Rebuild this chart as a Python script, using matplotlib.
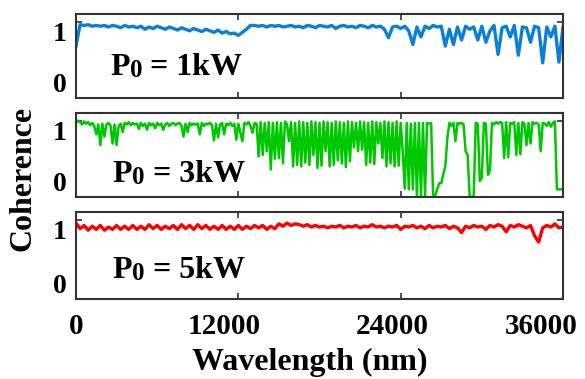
import numpy as np
import matplotlib
matplotlib.use("Agg")
import matplotlib.pyplot as plt
from matplotlib.transforms import ScaledTranslation

plt.rcParams['font.family'] = ['Liberation Serif', 'DejaVu Serif']
plt.rcParams['font.weight'] = 'bold'

# wavelength grids (nm)
wavelength = list(range(0, 36001, 300))
wavelength_fine = list(range(0, 36001, 150))

coh_1kw = [0.68, 0.96, 0.95, 0.96, 0.94, 0.95, 0.94, 0.95, 0.93, 0.95,
           0.94, 0.92, 0.95, 0.93, 0.94, 0.92, 0.94, 0.90, 0.93, 0.91,
           0.94, 0.92, 0.90, 0.93, 0.91, 0.89, 0.92, 0.90, 0.88, 0.91,
           0.89, 0.87, 0.90, 0.88, 0.86, 0.89, 0.85, 0.87, 0.84, 0.85,
           0.82, 0.86, 0.90, 0.95, 0.95, 0.94, 0.95, 0.93, 0.95, 0.94,
           0.95, 0.93, 0.94, 0.95, 0.93, 0.94, 0.92, 0.95, 0.94, 0.92,
           0.95, 0.94, 0.93, 0.95, 0.91, 0.94, 0.95, 0.93, 0.94, 0.92,
           0.95, 0.94, 0.92, 0.95, 0.93, 0.94, 0.90, 0.79, 0.93, 0.94,
           0.91, 0.94, 0.88, 0.70, 0.93, 0.80, 0.94, 0.91, 0.95, 0.93,
           0.94, 0.68, 0.90, 0.70, 0.93, 0.76, 0.94, 0.90, 0.93, 0.76,
           0.94, 0.73, 0.88, 0.95, 0.57, 0.92, 0.94, 0.80, 0.95, 0.56,
           0.93, 0.92, 0.73, 0.94, 0.92, 0.46, 0.93, 0.80, 0.94, 0.47,
           0.93]

coh_3kw = [0.97, 1.00, 0.98, 0.95, 0.99, 0.96, 0.98, 0.94, 0.97, 0.93,
           0.82, 0.95, 0.68, 0.96, 0.79, 0.95, 0.97, 0.94, 0.70, 0.95,
           0.68, 0.93, 0.96, 0.85, 0.97, 0.95, 0.98, 0.94, 0.97, 0.95,
           0.96, 0.89, 0.97, 0.93, 0.96, 0.88, 0.97, 0.94, 0.96, 0.90,
           0.97, 0.94, 0.96, 0.88, 0.95, 0.97, 0.93, 0.96, 0.97, 0.94,
           0.96, 0.97, 0.93, 0.79, 0.96, 0.85, 0.97, 0.94, 0.96, 0.95,
           0.96, 0.82, 0.97, 0.93, 0.96, 0.95, 0.97, 0.94, 0.74, 0.96,
           0.78, 0.95, 0.97, 0.82, 0.96, 0.94, 0.97, 0.93, 0.96, 0.75,
           0.96, 0.84, 0.73, 0.97, 0.95, 0.98, 0.93, 0.84, 0.97, 0.96,
           0.53, 0.98, 0.55, 0.97, 0.60, 0.98, 0.36, 0.97, 0.50, 0.98,
           0.51, 0.97, 0.44, 0.99, 0.95, 0.73, 0.98, 0.40, 0.97, 0.42,
           0.99, 0.40, 0.98, 0.45, 0.97, 0.42, 0.99, 0.55, 0.98, 0.38,
           0.97, 0.41, 0.99, 0.60, 0.98, 0.40, 0.97, 0.42, 0.99, 0.48,
           0.98, 0.44, 0.97, 0.39, 0.99, 0.47, 0.98, 0.65, 0.97, 0.60,
           0.99, 0.62, 0.98, 0.42, 0.97, 0.45, 0.99, 0.43, 0.98, 0.70,
           0.97, 0.51, 0.99, 0.40, 0.98, 0.44, 0.97, 0.40, 0.99, 0.41,
           0.97, 0.60, 0.11, 0.97, 0.10, 0.96, 0.10, 0.97, 0.01, 0.97,
           0.01, 0.97, 0.01, 0.97, 0.96, 0.97, 0.01, 0.02, 0.10, 0.18,
           0.18, 0.30, 0.40, 0.77, 0.97, 0.93, 0.97, 0.73, 0.97, 0.96,
           0.97, 0.95, 0.60, 0.55, 0.01, 0.00, 0.02, 0.97, 0.96, 0.21,
           0.25, 0.97, 0.96, 0.29, 0.35, 0.97, 0.95, 0.98, 0.96, 0.98,
           0.97, 0.51, 0.98, 0.52, 0.97, 0.96, 0.98, 0.55, 0.97, 0.56,
           0.98, 0.96, 0.68, 0.97, 0.70, 0.98, 0.96, 0.97, 0.95, 0.60,
           0.97, 0.96, 0.93, 0.98, 0.92, 0.97, 0.99, 0.10, 0.10, 0.10,
           0.11]

coh_5kw = [0.96, 0.89, 0.93, 0.87, 0.92, 0.88, 0.93, 0.87, 0.91, 0.88,
           0.93, 0.88, 0.92, 0.88, 0.93, 0.88, 0.92, 0.88, 0.94, 0.89,
           0.93, 0.88, 0.92, 0.89, 0.93, 0.88, 0.94, 0.89, 0.93, 0.88,
           0.94, 0.89, 0.93, 0.88, 0.92, 0.88, 0.93, 0.88, 0.92, 0.88,
           0.93, 0.88, 0.92, 0.89, 0.93, 0.90, 0.93, 0.88, 0.92, 0.89,
           0.95, 0.92, 0.96, 0.93, 0.95, 0.94, 0.92, 0.94, 0.91, 0.93,
           0.91, 0.92, 0.90, 0.92, 0.91, 0.93, 0.90, 0.92, 0.91, 0.93,
           0.90, 0.92, 0.91, 0.94, 0.91, 0.92, 0.90, 0.92, 0.91, 0.93,
           0.88, 0.92, 0.91, 0.93, 0.90, 0.92, 0.89, 0.93, 0.90, 0.92,
           0.91, 0.93, 0.89, 0.92, 0.90, 0.84, 0.92, 0.90, 0.93, 0.91,
           0.92, 0.88, 0.93, 0.91, 0.94, 0.92, 0.85, 0.93, 0.91, 0.94,
           0.92, 0.90, 0.93, 0.80, 0.72, 0.90, 0.93, 0.91, 0.95, 0.90,
           0.91]

xs = [wavelength, wavelength_fine, wavelength]
series = [coh_1kw, coh_3kw, coh_5kw]
colors = ['#0a7fd8', '#00c800', '#ff0000']
widths = [2.4, 1.8, 2.4]
powers = ['1kW', '3kW', '5kW']
x_ticks = [0, 12000, 24000, 36000]
x_ticklabels = ['0', '12000', '24000', '36000']
y_ticks = [0, 1]

fig = plt.figure(figsize=(5.85, 3.79), dpi=100)
W, H = 585, 379
boxes = [(14, 98), (113, 197), (212, 299)]
left_px, right_px = 76, 563
label_pos = [(0.07, 0.27), (0.075, 0.18), (0.075, 0.24)]

axes = []
for k, (top, bot) in enumerate(boxes):
    ax = fig.add_axes([left_px / W, 1 - bot / H, (right_px - left_px) / W, (bot - top) / H])
    ax.plot(xs[k], series[k], color=colors[k], lw=widths[k])
    ax.set_xlim(0, 36000)
    ax.set_ylim(0, 1.1)
    ax.set_xticks(x_ticks)
    ax.set_yticks(y_ticks)
    ax.set_yticklabels(['0', '1'])
    ax.tick_params(axis='both', direction='in', length=4, width=1.2, color='#333333',
                   top=True, right=True)
    ax.tick_params(axis='y', labelsize=20, pad=7)
    for sp in ax.spines.values():
        sp.set_linewidth(1.5)
        sp.set_color('#333333')
    if k < 2:
        ax.set_xticklabels([])
    else:
        ax.set_xticklabels(x_ticklabels)
        ax.tick_params(axis='x', labelsize=21, pad=10)
    ylabs = ax.get_yticklabels()
    ylabs[0].set_va('bottom')
    ylabs[1].set_va('top')
    for t in ylabs:
        t.set_fontweight('bold')
    for t in ax.get_xticklabels():
        t.set_fontweight('bold')
    lx, ly = label_pos[k]
    t1 = ax.text(lx, ly, 'P', transform=ax.transAxes, fontsize=23, fontweight='bold',
                 va='baseline', ha='left')
    t2 = ax.annotate('0', xy=(1, 0), xycoords=t1, fontsize=18, fontweight='bold',
                     va='bottom', ha='left')
    ax.annotate(' = ' + powers[k], xy=(1, 0), xycoords=t2, fontsize=23, fontweight='bold',
                va='bottom', ha='left')
    axes.append(ax)

xl = axes[2].get_xticklabels()
for t, dx in zip(xl, [0, -14, -8, -22]):
    t.set_transform(t.get_transform() + ScaledTranslation(dx / 100, 0, fig.dpi_scale_trans))

axes[2].set_xlabel('Wavelength (nm)', fontsize=23, fontweight='bold', labelpad=6)
axes[2].xaxis.label.set_x(0.48)
fig.text(0.04, 0.53, 'Coherence', rotation=90, fontsize=23, fontweight='bold',
         ha='center', va='center')

fig.savefig('out.png', dpi=100)
